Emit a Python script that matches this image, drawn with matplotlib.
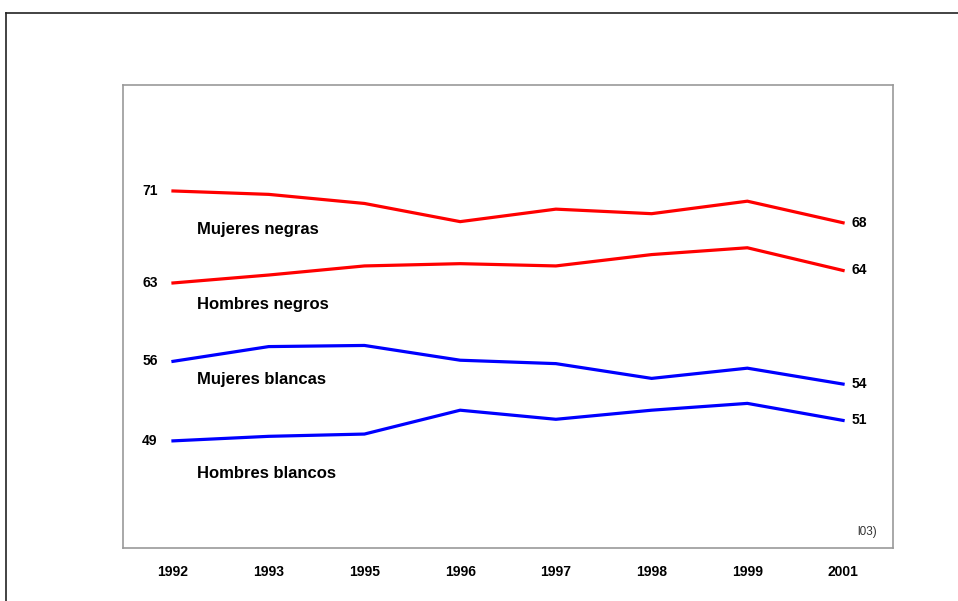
import matplotlib.pyplot as plt
from matplotlib.lines import Line2D

plt.rcParams['font.family'] = ['Liberation Sans', 'DejaVu Sans']

# Years on the x axis (evenly spaced categories)
years = ["1992", "1993", "1995", "1996", "1997", "1998", "1999", "2001"]

# Series values
mujeres_negras = [71.0, 70.7, 69.9, 68.3, 69.4, 69.0, 70.1, 68.2]
hombres_negros = [62.9, 63.6, 64.4, 64.6, 64.4, 65.4, 66.0, 64.0]
mujeres_blancas = [56.0, 57.3, 57.4, 56.1, 55.8, 54.5, 55.4, 54.0]
hombres_blancos = [49.0, 49.4, 49.6, 51.7, 50.9, 51.7, 52.3, 50.8]

series_names = ["Mujeres negras", "Hombres negros", "Mujeres blancas", "Hombres blancos"]
series_values = [mujeres_negras, hombres_negros, mujeres_blancas, hombres_blancos]
series_colors = ["#ff0000", "#ff0000", "#0000ff", "#0000ff"]
start_labels = ["71", "63", "56", "49"]
end_labels = ["68", "64", "54", "51"]
name_y = [67.65, 61.0, 54.4, 46.1]

fig = plt.figure(figsize=(9.58, 6.01), dpi=100)
ax = fig.add_axes([0.1284, 0.0882, 0.8038, 0.7704])

x = list(range(len(years)))
for vals, col in zip(series_values, series_colors):
    ax.plot(x, vals, color=col, lw=2.3, solid_joinstyle='miter')

# value labels at both ends
for vals, s, e in zip(series_values, start_labels, end_labels):
    ax.text(-0.16, vals[0], s, ha='right', va='center', fontsize=10, fontweight='bold')
    ax.text(7.09, vals[-1], e, ha='left', va='center', fontsize=10, fontweight='bold')

# series names
for name, ny in zip(series_names, name_y):
    ax.text(0.25, ny, name, ha='left', va='center', fontsize=12, fontweight='bold')

# clipped footnote remnant
ax.text(0.979, 0.035, "l03)", transform=ax.transAxes, ha='right', va='center',
        fontsize=8.5, color='#333333')

ax.set_xlim(-0.522, 7.522)
ax.set_ylim(39.57, 80.33)
ax.set_xticks(x)
ax.set_xticklabels(years, fontsize=10, fontweight='bold')
ax.tick_params(axis='x', length=0, pad=12)
ax.set_yticks([])
for sp in ax.spines.values():
    sp.set_color('#999999')
    sp.set_linewidth(1.2)

# outer frame (top and left edges visible)
fig.add_artist(Line2D([6 / 958, 1.0], [1 - 13 / 601, 1 - 13 / 601], color='#222222', lw=1.2))
fig.add_artist(Line2D([6 / 958, 6 / 958], [0.0, 1 - 13 / 601], color='#222222', lw=1.2))

fig.savefig("out.png", dpi=100)
